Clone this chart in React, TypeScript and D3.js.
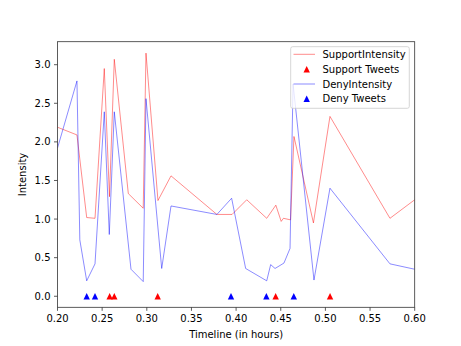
import React from 'react';
import * as d3 from 'd3';

// Intensity timeline values
const supportTime = [0.2, 0.2218, 0.2327, 0.242, 0.2524, 0.2582, 0.2636, 0.2793, 0.296, 0.2991, 0.3125, 0.3271, 0.3785, 0.3955, 0.4119, 0.4343, 0.4445, 0.4505, 0.453, 0.461, 0.4648, 0.4866, 0.5051, 0.5723, 0.6];
const supportIntensity = [2.19, 2.09, 1.02, 1.01, 2.95, 1.29, 3.07, 1.33, 1.14, 3.15, 1.24, 1.56, 1.06, 1.06, 1.25, 1.01, 1.18, 0.97, 1.01, 0.99, 2.07, 0.95, 2.33, 1.01, 1.25];

const denyTime = [0.2, 0.2218, 0.225, 0.2327, 0.242, 0.2524, 0.258, 0.2636, 0.2823, 0.296, 0.2991, 0.3167, 0.3271, 0.3785, 0.395, 0.4107, 0.4343, 0.4387, 0.4436, 0.4536, 0.4604, 0.4638, 0.4872, 0.5051, 0.5723, 0.6];
const denyIntensity = [1.92, 2.79, 0.73, 0.2, 0.42, 2.39, 0.8, 2.39, 0.35, 0.19, 2.56, 0.36, 1.17, 1.06, 1.27, 0.36, 0.2, 0.41, 0.36, 0.43, 0.62, 2.75, 0.21, 1.4, 0.42, 0.35];

const supportTweets = [0.2584, 0.2636, 0.3122, 0.4443, 0.5052];
const denyTweets = [0.2327, 0.242, 0.3943, 0.4339, 0.4646];

const xTicks = [0.2, 0.25, 0.3, 0.35, 0.4, 0.45, 0.5, 0.55, 0.6];
const yTicks = [0, 0.5, 1, 1.5, 2, 2.5, 3];

const W = 461;
const H = 346;
const left = 57.5;
const right = 414.7;
const top = 41.7;
const bottom = 307.3;
const font = 'DejaVu Sans, sans-serif';

const tri = (cx: number, cy: number, s = 3.2) =>
  `M${cx},${cy - s}L${cx - s},${cy + s}L${cx + s},${cy + s}Z`;

const App = () => {
  const x = d3.scaleLinear().domain([0.2, 0.6]).range([left, right]);
  const y = d3.scaleLinear().domain([-0.143, 3.298]).range([bottom, top]);

  const line = d3.line<[number, number]>()
    .x(d => x(d[0]))
    .y(d => y(d[1]));

  const supportPts = supportTime.map((t, i) => [t, supportIntensity[i]] as [number, number]);
  const denyPts = denyTime.map((t, i) => [t, denyIntensity[i]] as [number, number]);

  // legend layout
  const lgX = 290.7, lgY = 46.7, lgW = 118.6, lgH = 61.6;
  const rows = [54.3, 69.3, 84, 98.7];

  return (
    <svg width={W} height={H} style={{ position: 'absolute', left: 0, top: 0 }} fontFamily={font}>
      <rect width={W} height={H} fill="white" />
      <defs>
        <clipPath id="plot">
          <rect x={left} y={top} width={right - left} height={bottom - top} />
        </clipPath>
      </defs>

      <g clipPath="url(#plot)">
        <path d={line(supportPts) || ''} fill="none" stroke="red" strokeOpacity={0.65} strokeWidth={0.7} />
        <path d={line(denyPts) || ''} fill="none" stroke="blue" strokeOpacity={0.65} strokeWidth={0.7} />
        {supportTweets.map((t, i) => (
          <path key={'s' + i} d={tri(x(t), y(0))} fill="red" />
        ))}
        {denyTweets.map((t, i) => (
          <path key={'d' + i} d={tri(x(t), y(0))} fill="blue" />
        ))}
      </g>

      {/* spines */}
      <rect x={left} y={top} width={right - left} height={bottom - top} fill="none" stroke="#333" strokeWidth={0.8} />

      {/* x axis */}
      {xTicks.map(t => (
        <g key={t} transform={`translate(${x(t)},${bottom})`}>
          <line y2={3.5} stroke="#333" strokeWidth={0.8} />
          <text y={15} textAnchor="middle" fontSize={10} fill="#000">{t.toFixed(2)}</text>
        </g>
      ))}
      <text x={(left + right) / 2} y={338} textAnchor="middle" fontSize={10}>Timeline (in hours)</text>

      {/* y axis */}
      {yTicks.map(t => (
        <g key={t} transform={`translate(${left},${y(t)})`}>
          <line x2={-3.5} stroke="#333" strokeWidth={0.8} />
          <text x={-7} dy="0.35em" textAnchor="end" fontSize={10} fill="#000">{t.toFixed(1)}</text>
        </g>
      ))}
      <text transform={`translate(26,${(top + bottom) / 2}) rotate(-90)`} textAnchor="middle" fontSize={10}>Intensity</text>

      {/* legend */}
      <rect x={lgX} y={lgY} width={lgW} height={lgH} rx={2} fill="white" fillOpacity={0.8} stroke="#ccc" strokeWidth={0.8} />
      <line x1={293.5} x2={315} y1={rows[0]} y2={rows[0]} stroke="red" strokeOpacity={0.65} strokeWidth={0.7} />
      <path d={tri(306.7, rows[1])} fill="red" />
      <line x1={293.5} x2={315} y1={rows[2]} y2={rows[2]} stroke="blue" strokeOpacity={0.65} strokeWidth={0.7} />
      <path d={tri(306.7, rows[3])} fill="blue" />
      {['SupportIntensity', 'Support Tweets', 'DenyIntensity', 'Deny Tweets'].map((s, i) => (
        <text key={s} x={322.5} y={rows[i]} dy="0.35em" fontSize={10}>{s}</text>
      ))}
    </svg>
  );
};

export default App;
